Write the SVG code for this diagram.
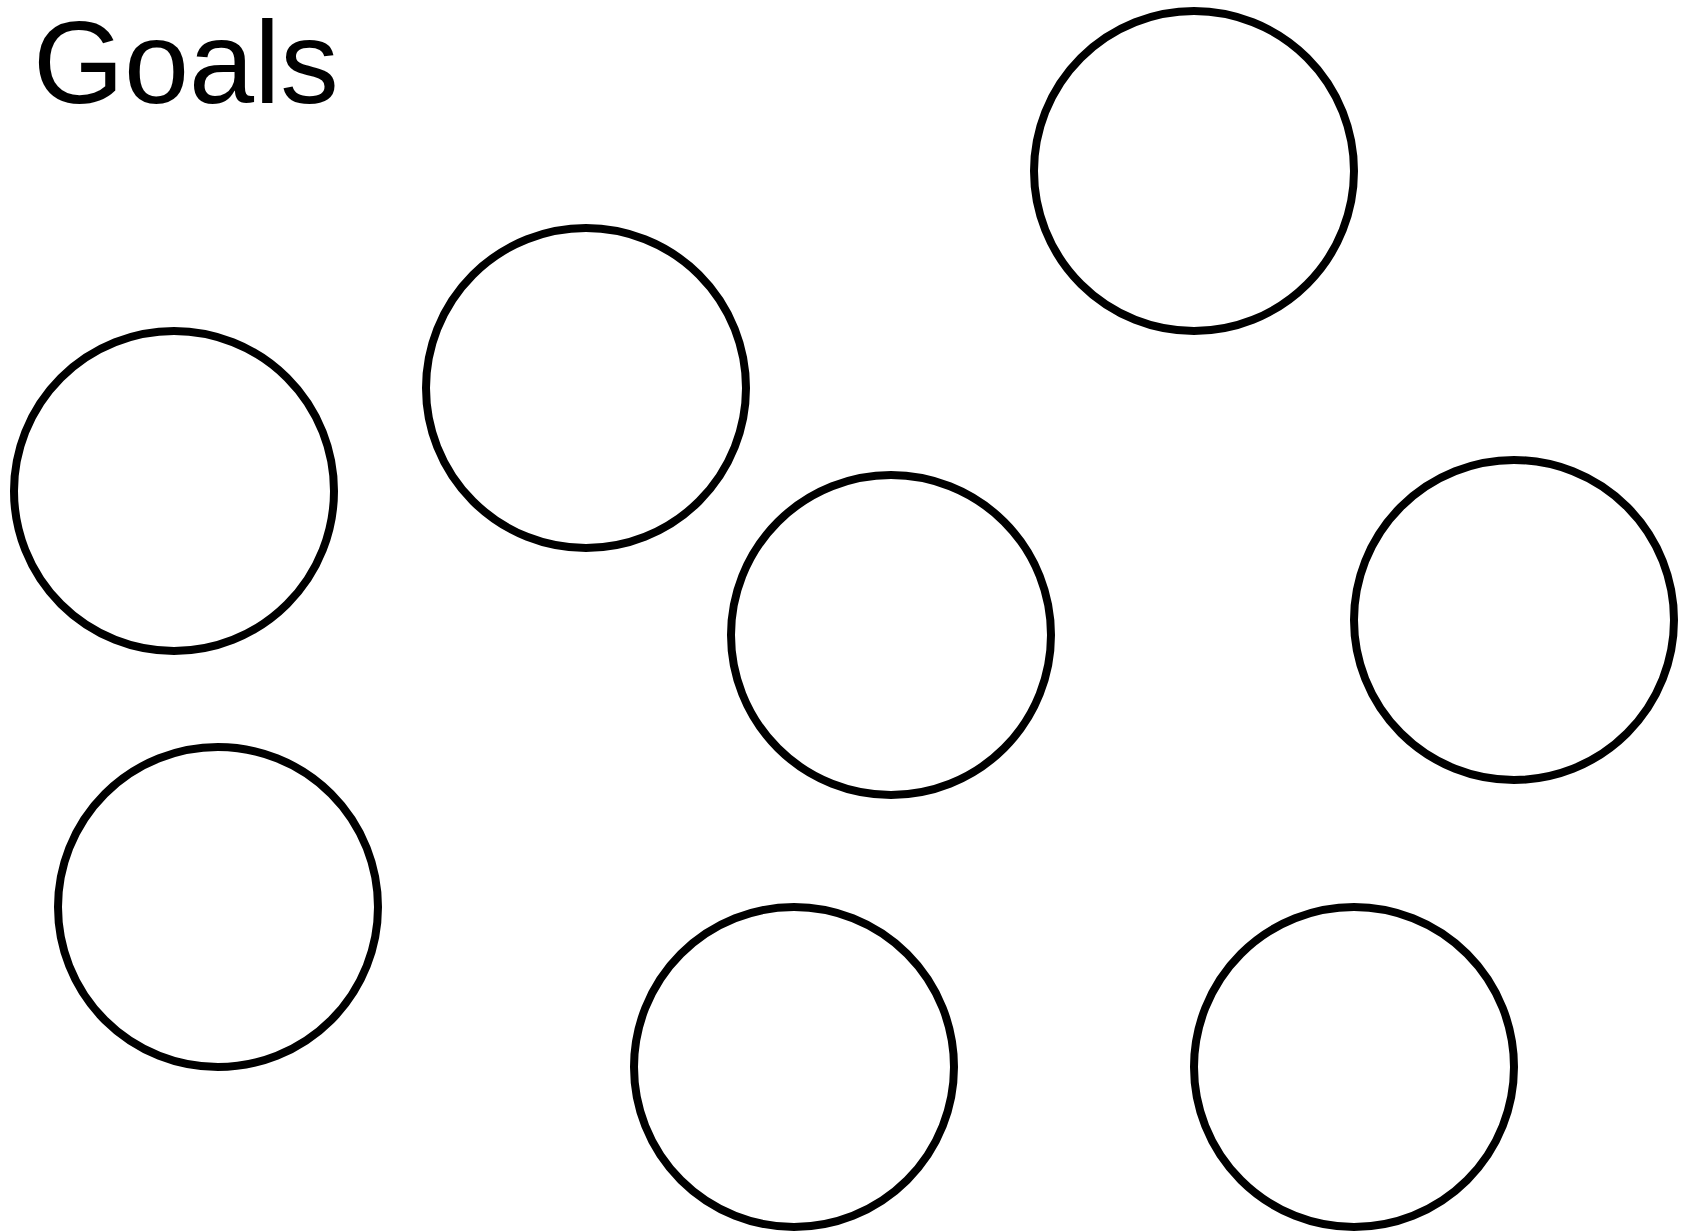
<svg xmlns="http://www.w3.org/2000/svg" width="1687" height="1231" viewBox="0 0 1687 1231">
<style>
.goal{fill:#fff;stroke:#000;stroke-width:8}
.title{font-family:"Liberation Sans",Arial,sans-serif;font-size:117px;fill:#000}
</style>
<rect width="1687" height="1231" fill="#fff"/>
<text class="title" x="33" y="103">Goals</text>
<g id="connectors"></g>
<g id="goal1"><circle class="goal" cx="1194" cy="171" r="160"/></g>
<g id="goal2"><circle class="goal" cx="586" cy="388" r="160"/></g>
<g id="goal3"><circle class="goal" cx="174" cy="491" r="160"/></g>
<g id="goal4"><circle class="goal" cx="891" cy="635" r="160"/></g>
<g id="goal5"><circle class="goal" cx="1514" cy="620" r="160"/></g>
<g id="goal6"><circle class="goal" cx="218" cy="907" r="160"/></g>
<g id="goal7"><circle class="goal" cx="794" cy="1067" r="160"/></g>
<g id="goal8"><circle class="goal" cx="1354" cy="1067" r="160"/></g>
</svg>
